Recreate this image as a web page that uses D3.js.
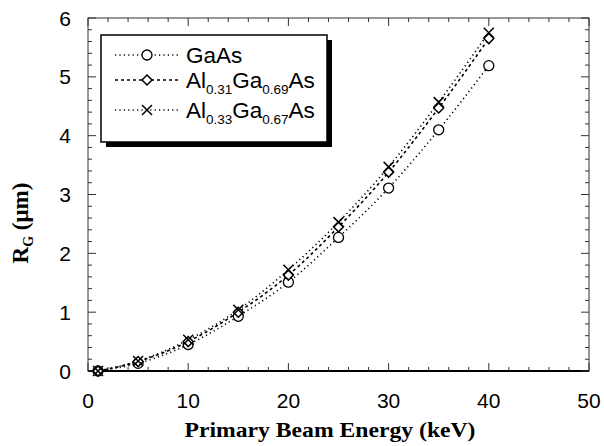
<!DOCTYPE html>
<html>
<head>
<meta charset="utf-8">
<script src="https://cdn.jsdelivr.net/npm/d3@7"></script>
<style>
  html, body { margin: 0; padding: 0; background: #fff; }
  svg { display: block; }
</style>
</head>
<body>
<svg id="chart" width="604" height="446"></svg>
<script>
const energies = [1, 5, 10, 15, 20, 25, 30, 35, 40];
const gaas = [0, 0.13, 0.45, 0.93, 1.51, 2.27, 3.11, 4.1, 5.19];
const al31 = [0, 0.16, 0.5, 1.0, 1.63, 2.45, 3.38, 4.47, 5.65];
const al33 = [0, 0.17, 0.53, 1.04, 1.72, 2.53, 3.47, 4.57, 5.75];
const xTicks = [0, 10, 20, 30, 40, 50];
const yTicks = [0, 1, 2, 3, 4, 5, 6];

const series = [
  { name: "GaAs", values: gaas, dash: "1.2,3.2", marker: "circle", label: [["GaAs", 0]] },
  { name: "Al0.31Ga0.69As", values: al31, dash: "3,3", marker: "diamond",
    label: [["Al", 0], ["0.31", 1], ["Ga", 0], ["0.69", 1], ["As", 0]] },
  { name: "Al0.33Ga0.67As", values: al33, dash: "1.2,3.2", marker: "x",
    label: [["Al", 0], ["0.33", 1], ["Ga", 0], ["0.67", 1], ["As", 0]] }
];

const svg = d3.select("#chart");
const L = 88, R = 589, T = 18, B = 371;
const x = d3.scaleLinear().domain([0, 50]).range([L, R]);
const y = d3.scaleLinear().domain([0, 6]).range([B, T]);

const g = svg.append("g");
const sansFont = "Liberation Sans, Arial, Helvetica, sans-serif";
const serifFont = "Liberation Serif, Times New Roman, serif";

// frame
g.append("rect").attr("x", L).attr("y", T).attr("width", R - L).attr("height", B - T)
  .attr("fill", "none").attr("stroke", "#333").attr("stroke-width", 1);
g.append("line").attr("x1", L).attr("x2", R).attr("y1", B).attr("y2", B)
  .attr("stroke", "#000").attr("stroke-width", 2);

// ticks (inward, all four sides)
const xMajorSet = new Set(xTicks);
const xMinorVals = d3.range(0, 50.01, 2).filter(v => !xMajorSet.has(v));
xMinorVals.forEach(v => {
  g.append("line").attr("x1", x(v)).attr("x2", x(v)).attr("y1", B).attr("y2", B - 4).attr("stroke", "#333");
  g.append("line").attr("x1", x(v)).attr("x2", x(v)).attr("y1", T).attr("y2", T + 4).attr("stroke", "#333");
});
xTicks.forEach(v => {
  g.append("line").attr("x1", x(v)).attr("x2", x(v)).attr("y1", B).attr("y2", B - 8).attr("stroke", "#333");
  g.append("line").attr("x1", x(v)).attr("x2", x(v)).attr("y1", T).attr("y2", T + 8).attr("stroke", "#333");
});
const yMinorVals = d3.range(0, 6.001, 0.2).map(v => +v.toFixed(1)).filter(v => Math.abs(v - Math.round(v)) > 1e-6);
yMinorVals.forEach(v => {
  g.append("line").attr("x1", L).attr("x2", L + 4).attr("y1", y(v)).attr("y2", y(v)).attr("stroke", "#333");
  g.append("line").attr("x1", R).attr("x2", R - 4).attr("y1", y(v)).attr("y2", y(v)).attr("stroke", "#333");
});
yTicks.forEach(v => {
  g.append("line").attr("x1", L).attr("x2", L + 8).attr("y1", y(v)).attr("y2", y(v)).attr("stroke", "#333");
  g.append("line").attr("x1", R).attr("x2", R - 8).attr("y1", y(v)).attr("y2", y(v)).attr("stroke", "#333");
});

// tick labels
g.selectAll(".xl").data(xTicks).enter().append("text")
  .attr("x", d => x(d)).attr("y", 408).attr("text-anchor", "middle")
  .attr("font-family", sansFont).attr("font-size", 21)
  .text(d => d);
g.selectAll(".yl").data(yTicks).enter().append("text")
  .attr("x", 71).attr("y", d => y(d) + 7.5).attr("text-anchor", "end")
  .attr("font-family", sansFont).attr("font-size", 21)
  .text(d => d);

// axis titles
g.append("text").attr("x", 330).attr("y", 437).attr("text-anchor", "middle")
  .attr("font-family", serifFont).attr("font-weight", "bold")
  .attr("font-size", 21.5).attr("textLength", 291).attr("lengthAdjust", "spacingAndGlyphs")
  .text("Primary Beam Energy (keV)");

const yt = g.append("text").attr("transform", "translate(28,223) rotate(-90)")
  .attr("text-anchor", "middle")
  .attr("font-family", serifFont).attr("font-weight", "bold")
  .attr("font-size", 23);
yt.append("tspan").text("R");
yt.append("tspan").attr("font-size", 14).attr("dy", 5).text("G");
yt.append("tspan").attr("dy", -5).text(" (\u03bcm)");

// lines
const line = d3.line().x(d => x(d[0])).y(d => y(d[1])).curve(d3.curveMonotoneX);

function drawMarker(sel, type, cx, cy) {
  if (type === "circle") {
    sel.append("circle").attr("cx", cx).attr("cy", cy).attr("r", 5)
      .attr("fill", "#fff").attr("stroke", "#000").attr("stroke-width", 1.3);
  } else if (type === "diamond") {
    const s = 5;
    sel.append("path").attr("d", `M${cx},${cy - s}L${cx + s},${cy}L${cx},${cy + s}L${cx - s},${cy}Z`)
      .attr("fill", "#fff").attr("stroke", "#000").attr("stroke-width", 1.5);
  } else {
    const s = 5;
    sel.append("path").attr("d", `M${cx - s},${cy - s}L${cx + s},${cy + s}M${cx - s},${cy + s}L${cx + s},${cy - s}`)
      .attr("fill", "none").attr("stroke", "#000").attr("stroke-width", 1.5);
  }
}

series.forEach(s => {
  const pts = energies.map((e, i) => [e, s.values[i]]);
  g.append("path").attr("d", line(pts)).attr("fill", "none")
    .attr("stroke", "#000").attr("stroke-width", 1.6).attr("stroke-dasharray", s.dash);
});
series.forEach(s => {
  energies.forEach((e, i) => drawMarker(g, s.marker, x(e), y(s.values[i])));
});

// legend
const lg = svg.append("g");
lg.append("rect").attr("x", 106).attr("y", 40).attr("width", 226).attr("height", 107).attr("fill", "#000");
lg.append("rect").attr("x", 101).attr("y", 35).attr("width", 226).attr("height", 107)
  .attr("fill", "#fff").attr("stroke", "#000").attr("stroke-width", 1.5);
const rowBase = [63, 88, 118];
series.forEach((s, i) => {
  const ry = rowBase[i] - 8;
  lg.append("line").attr("x1", 115).attr("x2", 178).attr("y1", ry).attr("y2", ry)
    .attr("stroke", "#000").attr("stroke-width", 1.4).attr("stroke-dasharray", s.dash);
  drawMarker(lg, s.marker, 147, ry);
  const t = lg.append("text").attr("x", 186).attr("y", rowBase[i])
    .attr("font-family", sansFont).attr("font-size", 22.5);
  let prevSub = 0;
  s.label.forEach(([txt, sub]) => {
    const ts = t.append("tspan").text(txt);
    if (sub) ts.attr("font-size", 13.5);
    const dy = (sub ? 6 : 0) - (prevSub ? 6 : 0);
    if (dy) ts.attr("dy", dy);
    prevSub = sub;
  });
});
</script>
</body>
</html>
